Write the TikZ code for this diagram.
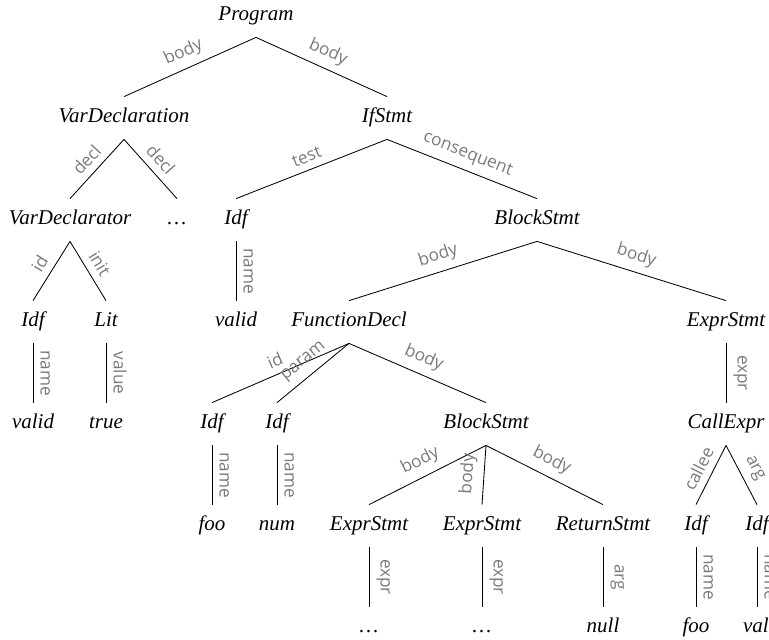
\documentclass[tikz,border=0pt]{standalone}
\usepackage{fontspec}
\setmainfont{Liberation Serif}
\newfontfamily\lblfont{Open Sans}
\begin{document}
\begin{tikzpicture}[x=0.5pt,y=-0.5pt,
  tn/.style={font=\fontsize{10.5}{12}\selectfont\itshape, inner sep=0pt, minimum height=21pt, text height=7.35pt, text depth=2.6pt},
  lbl/.style={font=\lblfont\fontsize{8.6}{10}\selectfont, text=black!52, inner sep=3.5pt, midway, sloped, above},
  ed/.style={line width=0.42pt, black}]
\useasboundingbox (0,0) rectangle (769,639);
\clip (0,0) rectangle (769,639);
% row 0
\node[tn] (prog) at (256,16) {Program};
% row 1
\node[tn] (vd) at (124,118) {VarDeclaration};
\node[tn] (ifs) at (387,118) {IfStmt};
% row 2
\node[tn] (vdr) at (70,220) {VarDeclarator};
\node[tn] (dotsa) at (177,220) {\ldots};
\node[tn] (idfa) at (236,220) {Idf};
\node[tn] (bsa) at (537,220) {BlockStmt};
% row 3
\node[tn] (idfb) at (33,322) {Idf};
\node[tn] (lit) at (106,322) {Lit};
\node[tn] (valida) at (236,322) {valid};
\node[tn] (fd) at (349,322) {FunctionDecl};
\node[tn] (esa) at (726,322) {ExprStmt};
% row 4
\node[tn] (validb) at (33,424) {valid};
\node[tn] (truev) at (106,424) {true};
\node[tn] (idfc) at (212,424) {Idf};
\node[tn] (idfd) at (277,424) {Idf};
\node[tn] (bsb) at (486,424) {BlockStmt};
\node[tn] (call) at (726,424) {CallExpr};
% row 5
\node[tn] (fooa) at (212,526) {foo};
\node[tn] (num) at (277,526) {num};
\node[tn] (esb) at (369,526) {ExprStmt};
\node[tn] (esc) at (482,526) {ExprStmt};
\node[tn] (ret) at (603,526) {ReturnStmt};
\node[tn] (idfe) at (696,526) {Idf};
\node[tn] (idff) at (757,526) {Idf};
% row 6
\node[tn] (dotsb) at (369,628) {\ldots};
\node[tn] (dotsc) at (482,628) {\ldots};
\node[tn] (nullv) at (603,628) {null};
\node[tn] (foob) at (696,628) {foo};
\node[tn] (validc) at (764,628) {valid};
% edges
\draw[ed] (prog.south) -- (vd.north) node[lbl]{body};
\draw[ed] (prog.south) -- (ifs.north) node[lbl]{body};
\draw[ed] (vd.south) -- (vdr.north) node[lbl]{decl};
\draw[ed] (vd.south) -- (dotsa.north) node[lbl]{decl};
\draw[ed] (ifs.south) -- (idfa.north) node[lbl]{test};
\draw[ed] (ifs.south) -- (bsa.north) node[lbl]{consequent};
\draw[ed] (vdr.south) -- (idfb.north) node[lbl]{id};
\draw[ed] (vdr.south) -- (lit.north) node[lbl]{init};
\draw[ed] (idfa.south) -- (valida.north) node[lbl]{name};
\draw[ed] (bsa.south) -- (fd.north) node[lbl]{body};
\draw[ed] (bsa.south) -- (esa.north) node[lbl]{body};
\draw[ed] (idfb.south) -- (validb.north) node[lbl]{name};
\draw[ed] (lit.south) -- (truev.north) node[lbl]{value};
\draw[ed] (fd.south) -- (idfc.north) node[lbl]{id};
\draw[ed] (fd.south) -- (idfd.north) node[lbl]{param};
\draw[ed] (fd.south) -- (bsb.north) node[lbl]{body};
\draw[ed] (esa.south) -- (call.north) node[lbl]{expr};
\draw[ed] (idfc.south) -- (fooa.north) node[lbl]{name};
\draw[ed] (idfd.south) -- (num.north) node[lbl]{name};
\draw[ed] (bsb.south) -- (esb.north) node[lbl]{body};
\draw[ed] (bsb.south) -- (esc.north) node[lbl]{body};
\draw[ed] (bsb.south) -- (ret.north) node[lbl]{body};
\draw[ed] (call.south) -- (idfe.north) node[lbl]{callee};
\draw[ed] (call.south) -- (idff.north) node[lbl]{arg};
\draw[ed] (esb.south) -- (dotsb.north) node[lbl]{expr};
\draw[ed] (esc.south) -- (dotsc.north) node[lbl]{expr};
\draw[ed] (ret.south) -- (nullv.north) node[lbl]{arg};
\draw[ed] (idfe.south) -- (foob.north) node[lbl]{name};
\draw[ed] (idff.south) -- (idff.south |- validc.north) node[lbl]{name};
\end{tikzpicture}
\end{document}
